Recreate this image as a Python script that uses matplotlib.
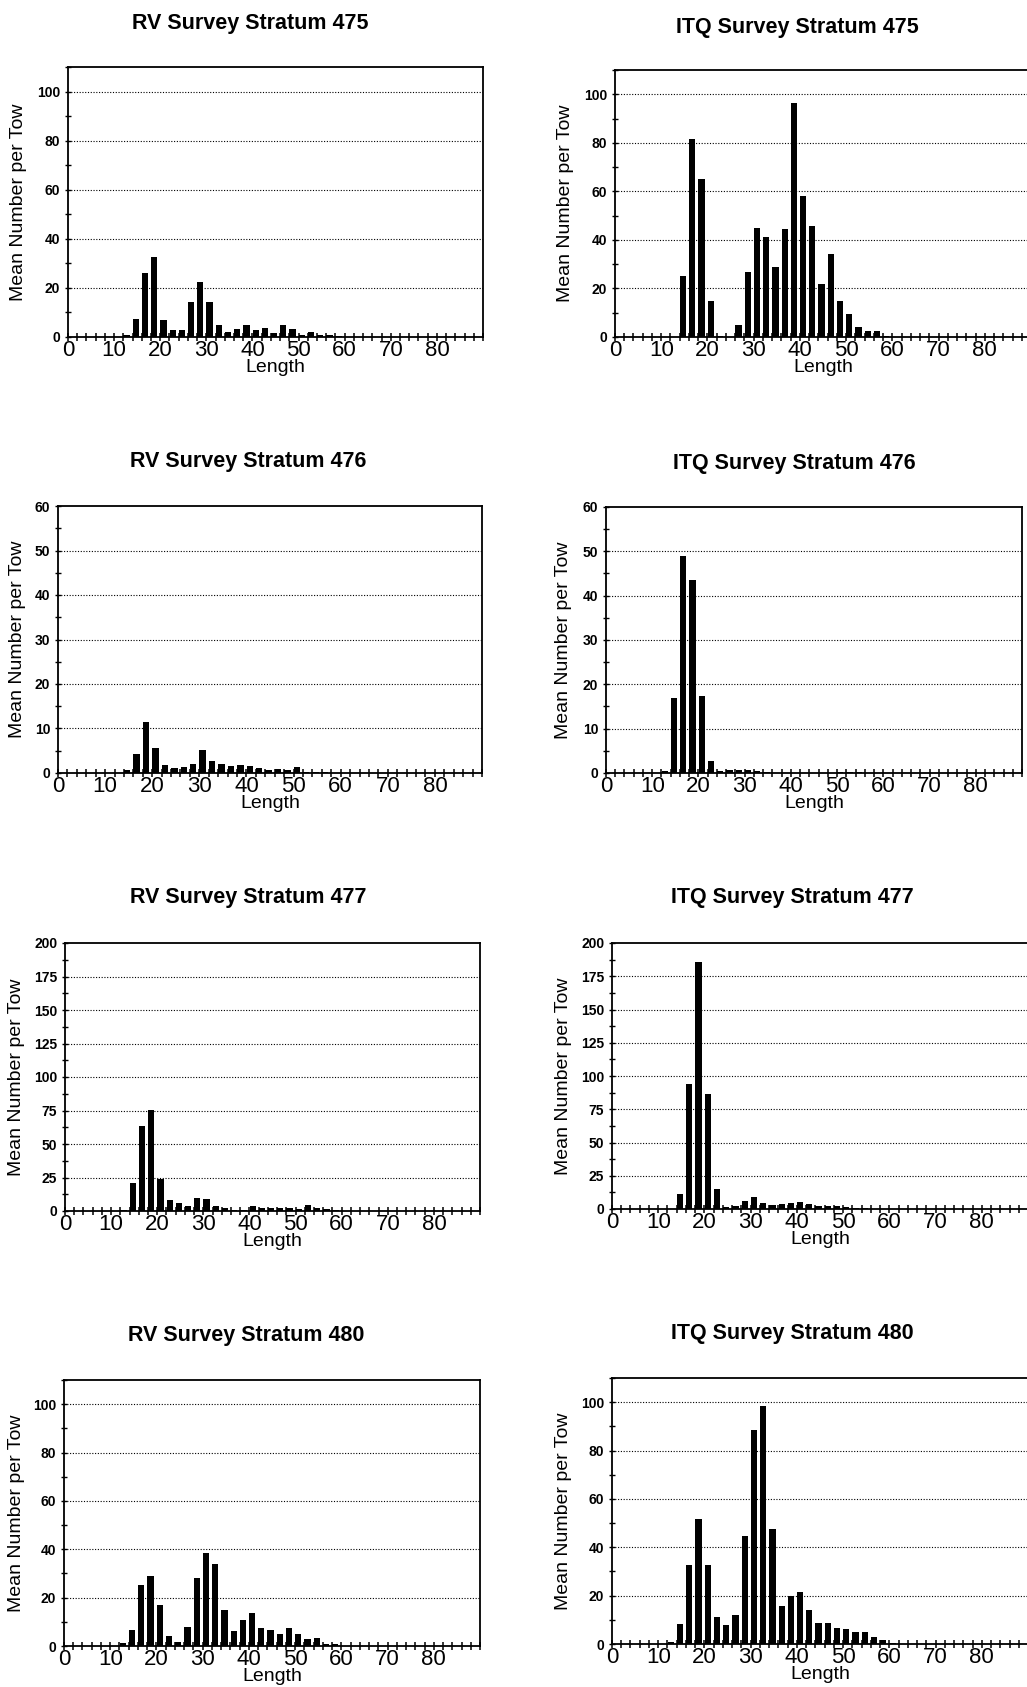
import matplotlib
matplotlib.use("Agg")
import matplotlib.pyplot as plt
from matplotlib.ticker import MultipleLocator

plt.rcParams['font.family'] = ['Liberation Sans', 'DejaVu Sans']

# ---- data -------------------------------------------------------------
lengths = [13, 15, 17, 19, 21, 23, 25, 27, 29, 31, 33, 35, 37, 39, 41, 43, 45, 47, 49, 51, 53, 55, 57, 59, 61]

rv_475 = [1.0, 7.2, 26.0, 32.4, 6.8, 2.7, 3.0, 14.1, 22.3, 14.1, 4.8, 2.0, 3.4, 4.8, 3.0, 3.5, 1.6, 4.9, 3.4, 1.0, 1.9, 0.8, 0.7, 0.3, 0.0]
itq_475 = [0.0, 25.2, 81.4, 65.2, 14.9, 0.5, 0.0, 5.0, 26.6, 44.9, 41.2, 29.0, 44.4, 96.6, 58.0, 45.6, 21.9, 34.1, 14.9, 9.5, 4.1, 2.6, 2.3, 0.3, 0.0]
rv_476 = [0.0, 0.75, 4.3, 11.4, 5.6, 1.9, 1.1, 1.35, 2.1, 5.2, 2.8, 2.1, 1.5, 1.8, 1.5, 1.05, 0.7, 0.8, 0.7, 1.3, 0.3, 0.3, 0.3, 0.0, 0.0]
itq_476 = [0.5, 16.9, 48.9, 43.5, 17.4, 2.6, 0.4, 0.6, 0.75, 0.75, 0.5, 0.2, 0.1, 0.1, 0.1, 0.1, 0.1, 0.1, 0.1, 0.2, 0.2, 0.3, 0.1, 0.0, 0.0]
rv_477 = [0.7, 21.2, 63.2, 75.7, 24.2, 8.2, 5.7, 4.0, 9.5, 8.7, 3.7, 2.0, 0.7, 0.7, 4.0, 2.2, 2.0, 2.2, 2.5, 1.2, 4.5, 2.0, 1.7, 0.5, 0.0]
itq_477 = [0.0, 11.3, 93.7, 185.6, 86.6, 14.9, 1.8, 2.5, 6.0, 8.8, 4.3, 3.0, 3.8, 4.8, 5.0, 3.8, 2.0, 2.5, 2.5, 1.3, 1.0, 0.5, 0.3, 0.0, 0.0]
rv_480 = [1.4, 6.8, 25.4, 29.1, 17.1, 4.1, 1.8, 7.9, 28.0, 38.5, 33.8, 14.8, 6.2, 10.8, 13.5, 7.3, 6.5, 5.1, 7.6, 5.1, 3.0, 3.5, 1.0, 0.8, 0.0]
itq_480 = [0.7, 8.4, 32.8, 51.8, 32.5, 11.3, 8.0, 11.8, 44.8, 88.6, 98.5, 47.7, 15.8, 20.0, 21.5, 13.9, 8.5, 8.8, 6.6, 6.3, 5.0, 5.0, 2.9, 1.8, 0.3]

titles = ["RV Survey Stratum 475", "ITQ Survey Stratum 475",
          "RV Survey Stratum 476", "ITQ Survey Stratum 476",
          "RV Survey Stratum 477", "ITQ Survey Stratum 477",
          "RV Survey Stratum 480", "ITQ Survey Stratum 480"]
series = [rv_475, itq_475, rv_476, itq_476, rv_477, itq_477, rv_480, itq_480]
y_max = [110, 110, 60, 60, 200, 200, 110, 110]
y_major = [20, 20, 10, 10, 25, 25, 20, 20]
y_minor = [10, 10, 5, 5, 12.5, 12.5, 10, 10]
x_ticks = [0, 10, 20, 30, 40, 50, 60, 70, 80]

# ---- layout (pixel boxes: left, top, right, bottom) -------------------
W, H = 1027, 1687
boxes = [
    (68, 67, 483, 337), (615, 70, 1031, 337),
    (58, 506, 482, 773), (606, 507, 1022, 773),
    (65, 943, 480, 1211), (612, 943, 1028, 1209),
    (64, 1380, 480, 1646), (612, 1378, 1028, 1644),
]
ylabel_x = [18, 565, 17, 563, 16, 563, 16, 563]
title_pos = [(250, 23), (797, 27), (248, 462), (794, 463), (248, 898), (792, 898), (246, 1335), (792, 1333)]

fig = plt.figure(figsize=(W / 100, H / 100), dpi=100)
fig.patch.set_facecolor("white")

for i, (vals, title) in enumerate(zip(series, titles)):
    l, t, r, b = boxes[i]
    ax = fig.add_axes([l / W, 1 - b / H, (r - l) / W, (b - t) / H])
    xs = [v - 0.3 for v in lengths]
    ax.bar(xs, vals, width=1.35, color="black", edgecolor="black", linewidth=0)
    ax.set_xlim(0, 90)
    ax.set_xticks(x_ticks)
    ax.xaxis.set_minor_locator(MultipleLocator(2))
    ax.yaxis.set_major_locator(MultipleLocator(y_major[i]))
    ax.yaxis.set_minor_locator(MultipleLocator(y_minor[i]))
    ax.set_ylim(0, y_max[i])
    v = y_major[i]
    while v < y_max[i]:
        ax.axhline(v, color="black", linestyle=(0, (1, 1.5)), linewidth=0.8, zorder=0)
        v += y_major[i]
    ax.tick_params(axis="x", which="both", direction="inout", length=6, width=1.1,
                   labelsize=16, pad=-1)
    ax.tick_params(axis="y", which="both", direction="inout", length=5, width=1.0,
                   labelsize=10, pad=3)
    for lab in ax.get_yticklabels():
        lab.set_fontweight("bold")
    for s in ax.spines.values():
        s.set_linewidth(1.3)
        s.set_color("black")
    ax.set_xlabel("Length", fontsize=14)
    ax.set_ylabel("Mean Number per Tow", fontsize=14)
    ax.yaxis.set_label_coords((ylabel_x[i] + 9 - l) / (r - l), 0.5)
    ax.xaxis.set_label_coords(0.5, -22 / (b - t))
    tx, ty = title_pos[i]
    fig.text(tx / W, 1 - ty / H, title, ha="center", va="center", fontsize=15.5, fontweight="bold")

fig.savefig("out.png", dpi=100, facecolor="white")
